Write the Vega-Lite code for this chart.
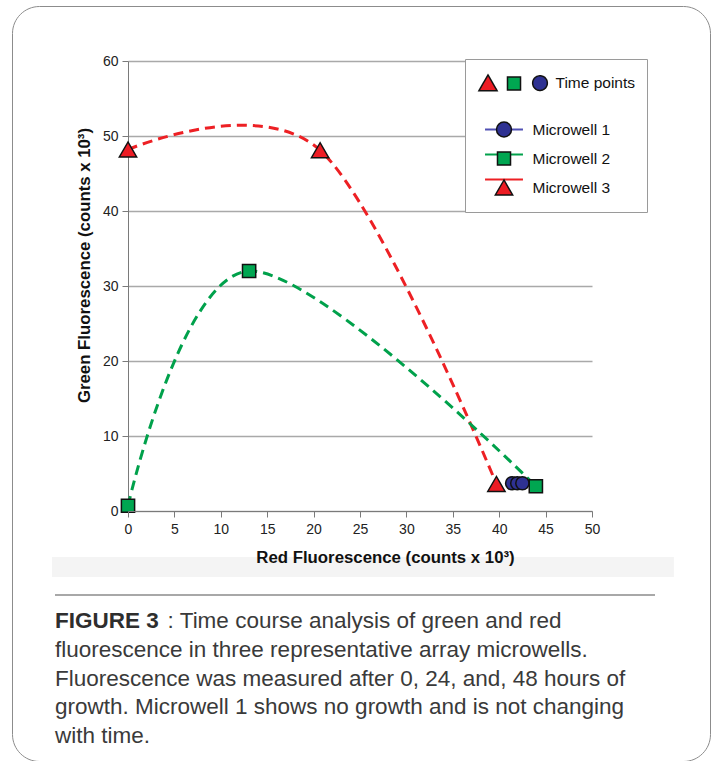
{
  "$schema": "https://vega.github.io/schema/vega-lite/v6.json",
  "width": 698,
  "height": 755,
  "autosize": {"type": "none"},
  "padding": {"left": 12, "top": 6, "right": 7, "bottom": 0},
  "background": "white",
  "config": {
    "font": "Liberation Sans",
    "view": {"stroke": "#8c8c8c", "strokeWidth": 1, "cornerRadius": 27, "fill": "white"}
  },
  "title": {
    "text": "FIGURE 3",
    "subtitle": [
      "\u200b\u2007\u2007\u2007\u2007\u2007\u2007\u2007\u2007\u2007: Time course analysis of green and red",
      "fluorescence in three representative array microwells.",
      "Fluorescence was measured after 0, 24, and, 48 hours of",
      "growth. Microwell 1 shows no growth and is not changing",
      "with time."
    ],
    "orient": "bottom",
    "anchor": "start",
    "frame": "group",
    "offset": -151,
    "dx": 43,
    "font": "Liberation Sans",
    "fontSize": 22.5,
    "fontWeight": "bold",
    "color": "#2e2e2e",
    "lineHeight": 28.75,
    "subtitleFont": "Liberation Sans",
    "subtitleFontSize": 22.5,
    "subtitleFontWeight": "normal",
    "subtitleColor": "#3a3a3a",
    "subtitleLineHeight": 28.75,
    "subtitlePadding": -22.5
  },
  "data": {
    "values": [
      {"well": "Microwell 3", "hours": 0, "red": 0, "green": 48.2},
      {"well": "Microwell 3", "hours": 24, "red": 20.7, "green": 48.1},
      {"well": "Microwell 3", "hours": 48, "red": 39.7, "green": 3.6},
      {"well": "Microwell 1", "hours": 0, "red": 41.4, "green": 3.7},
      {"well": "Microwell 1", "hours": 24, "red": 41.95, "green": 3.7},
      {"well": "Microwell 1", "hours": 48, "red": 42.5, "green": 3.7},
      {"well": "Microwell 2", "hours": 0, "red": 0, "green": 0.7},
      {"well": "Microwell 2", "hours": 24, "red": 13.05, "green": 32},
      {"well": "Microwell 2", "hours": 48, "red": 43.95, "green": 3.3}
    ]
  },
  "encoding": {
    "x": {
      "field": "red",
      "type": "quantitative",
      "scale": {"domain": [0, 50], "range": [116, 580], "nice": false, "zero": false},
      "axis": {
        "values": [0, 5, 10, 15, 20, 25, 30, 35, 40, 45, 50],
        "offset": -250,
        "grid": false,
        "zindex": 1,
        "domainColor": "#7a7a7a",
        "tickColor": "#7a7a7a",
        "tickSize": 6,
        "labelFontSize": 14,
        "labelColor": "#222",
        "labelPadding": 5,
        "labelFlush": false,
        "labelOverlap": false,
        "title": "Red Fluorescence (counts x 10³)",
        "titleFontSize": 16.8,
        "titleFontWeight": "bold",
        "titleColor": "#111",
        "titlePadding": 13,
        "titleX": 373
      }
    },
    "y": {
      "field": "green",
      "type": "quantitative",
      "scale": {"domain": [0, 60], "range": [505, 55], "nice": false, "zero": false},
      "axis": {
        "values": [0, 10, 20, 30, 40, 50, 60],
        "offset": -116,
        "grid": true,
        "gridColor": "#a9a9a9",
        "gridWidth": 1.3,
        "domainColor": "#7a7a7a",
        "tickColor": "#7a7a7a",
        "tickSize": 6,
        "labelFontSize": 14,
        "labelColor": "#222",
        "labelPadding": 4,
        "labelFlush": false,
        "title": "Green Fluorescence (counts x 10³)",
        "titleFontSize": 16.8,
        "titleFontWeight": "bold",
        "titleColor": "#111",
        "titlePadding": 9,
        "titleY": 259
      }
    }
  },
  "layer": [
    {
      "mark": {"type": "rect", "color": "#f4f4f4"},
      "encoding": {
        "x": {"datum": -8.19, "type": "quantitative", "axis": {"title": "Red Fluorescence (counts x 10³)"}},
        "x2": {"datum": 58.8},
        "y": {"datum": -6.13, "type": "quantitative", "axis": {"title": "Green Fluorescence (counts x 10³)"}},
        "y2": {"datum": -8.8}
      }
    },
    {
      "mark": {"type": "rule", "color": "#a8a8a8", "strokeWidth": 1.5},
      "encoding": {
        "x": {"datum": -7.87, "type": "quantitative", "axis": {"title": "Red Fluorescence (counts x 10³)"}},
        "x2": {"datum": 56.79},
        "y": {"datum": -11.2, "type": "quantitative", "axis": {"title": "Green Fluorescence (counts x 10³)"}}
      }
    },
    {
      "mark": {"type": "line", "interpolate": "cardinal", "strokeDash": [10, 6], "strokeWidth": 3},
      "encoding": {
        "order": {"field": "hours", "type": "quantitative"},
        "stroke": {
          "field": "well",
          "type": "nominal",
          "scale": {"domain": ["Microwell 1", "Microwell 2", "Microwell 3"], "range": ["#5050b4", "#00a14b", "#ed2024"]},
          "legend": {
            "orient": "none",
            "legendX": 453,
            "legendY": 53,
            "zindex": 0,
            "title": "\u200b\u2007\u2007\u2007\u2007\u2007\u2007\u2007\u2007\u2007\u2007\u2007\u2007\u2007\u2007\u2007\u2007\u2007\u2007\u2007\u2007\u2007\u2007\u2007\u2007\u200b",
            "titleFontSize": 10,
            "titlePadding": 28,
            "padding": 24,
            "symbolSize": 225,
            "symbolStrokeWidth": 1.8,
            "symbolOffset": 6.5,
            "symbolDash": [1, 0],
            "labelOffset": 20,
            "labelFontSize": 15.5,
            "labelOpacity": 0,
            "labelExpr": "'\u200b'",
            "rowPadding": 8,
            "strokeColor": "#9a9a9a",
            "fillColor": "white",
            "encode": {
              "symbols": {
                "update": {
                  "size": {"signal": "datum.value === 'Microwell 3' ? 300 : datum.value === 'Microwell 2' ? 170 : 225"},
                  "shape": {"signal": "datum.value === 'Microwell 3' ? 'M-2.19,0H2.19' : datum.value === 'Microwell 2' ? 'M-2.91,0H2.91' : 'M-2.53,0H2.53'"},
                  "fill": {"value": "transparent"}
                }
              }
            }
          }
        },
        "opacity": {
          "field": "well",
          "type": "nominal",
          "scale": {"domain": ["Microwell 3", "Microwell 2", "Microwell 1"], "range": [1, 1, 1]},
          "legend": {
            "orient": "none",
            "legendX": 467.5,
            "legendY": 68,
            "zindex": 2,
            "direction": "horizontal",
            "title": null,
            "padding": 0,
            "symbolSize": 225,
            "labelOffset": 7,
            "columnPadding": 0,
            "labelFontSize": 15.5,
            "labelColor": "#111",
            "labelExpr": "datum.value == 'Microwell 1' ? 'Time points' : ''",
            "encode": {
              "symbols": {
                "update": {
                  "shape": {"signal": "datum.value == 'Microwell 3' ? 'triangle-up' : datum.value == 'Microwell 2' ? 'square' : 'circle'"},
                  "fill": {"signal": "datum.value == 'Microwell 3' ? '#ed1c24' : datum.value == 'Microwell 2' ? '#00a651' : '#2e3192'"},
                  "size": {"signal": "datum.value == 'Microwell 3' ? 330 : datum.value == 'Microwell 2' ? 170 : 215"},
                  "stroke": {"value": "#111"},
                  "strokeWidth": {"value": 1.5},
                  "strokeDash": {"value": [1, 0]},
                  "fillOpacity": {"value": 1},
                  "opacity": {"value": 1}
                }
              }
            }
          }
        }
      }
    },
    {
      "mark": {"type": "point", "filled": true, "stroke": "#111", "strokeWidth": 1.5, "opacity": 1},
      "encoding": {
        "fill": {
          "field": "well",
          "type": "nominal",
          "scale": {"range": ["#2e3192", "#00a651", "#ed1c24"]},
          "legend": {
            "orient": "none",
            "legendX": 453,
            "legendY": 53,
            "zindex": 1,
            "title": "\u200b\u2007\u2007\u2007\u2007\u2007\u2007\u2007\u2007\u2007\u2007\u2007\u2007\u2007\u2007\u2007\u2007\u2007\u2007\u2007\u2007\u2007\u2007\u2007\u2007\u200b",
            "titleFontSize": 10,
            "titlePadding": 28,
            "padding": 24,
            "symbolSize": 225,
            "symbolOffset": 6.5,
            "symbolOpacity": 1,
            "labelOffset": 20,
            "labelFontSize": 15.5,
            "labelColor": "#111",
            "rowPadding": 8,
            "symbolStrokeColor": "#111",
            "symbolStrokeWidth": 1.5,
            "encode": {"symbols": {"update": {"size": {"signal": "datum.value === 'Microwell 3' ? 300 : datum.value === 'Microwell 2' ? 170 : 225"}, "opacity": {"value": 1}}}}
          }
        },
        "shape": {
          "field": "well",
          "type": "nominal",
          "scale": {"range": ["circle", "square", "triangle-up"]},
          "legend": {
            "orient": "none",
            "legendX": 453,
            "legendY": 53,
            "zindex": 1,
            "title": "\u200b\u2007\u2007\u2007\u2007\u2007\u2007\u2007\u2007\u2007\u2007\u2007\u2007\u2007\u2007\u2007\u2007\u2007\u2007\u2007\u2007\u2007\u2007\u2007\u2007\u200b",
            "titleFontSize": 10,
            "titlePadding": 28,
            "padding": 24,
            "symbolSize": 225,
            "symbolOffset": 6.5,
            "symbolOpacity": 1,
            "labelOffset": 20,
            "labelFontSize": 15.5,
            "labelColor": "#111",
            "rowPadding": 8,
            "symbolStrokeColor": "#111",
            "symbolStrokeWidth": 1.5,
            "encode": {"symbols": {"update": {"size": {"signal": "datum.value === 'Microwell 3' ? 300 : datum.value === 'Microwell 2' ? 170 : 225"}, "opacity": {"value": 1}}}}
          }
        },
        "size": {
          "condition": {"test": "datum.well === 'Microwell 3'", "value": 300},
          "value": 175
        }
      }
    }
  ]
}
